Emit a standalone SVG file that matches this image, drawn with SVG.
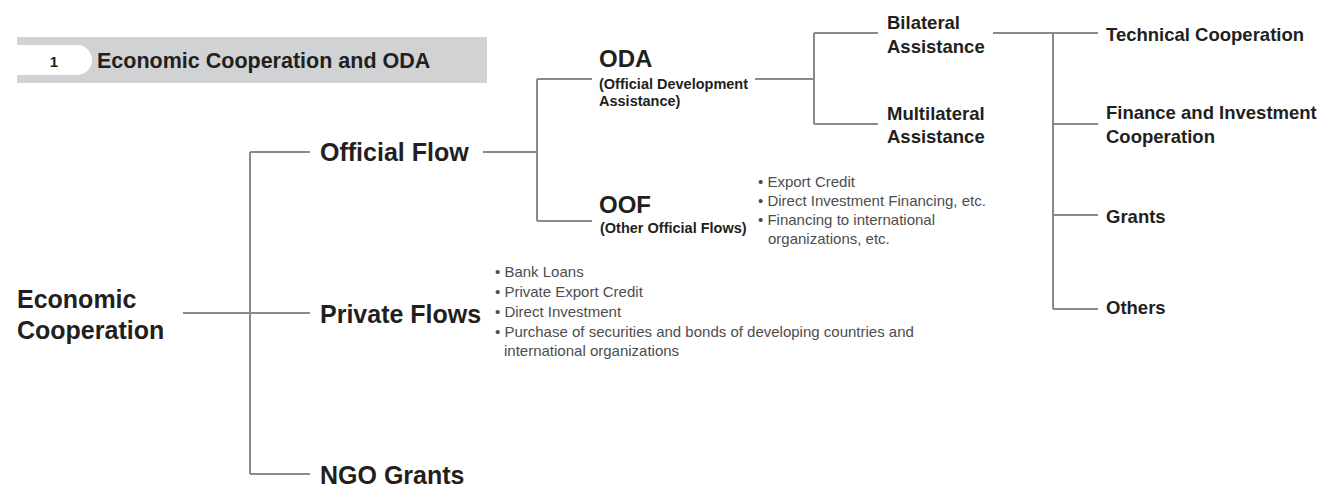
<svg xmlns="http://www.w3.org/2000/svg" width="1329" height="487" viewBox="0 0 1329 487">
<style>
.b{font-family:"Liberation Sans",Arial,sans-serif;font-weight:bold;fill:#231f20}
.r{font-family:"Liberation Sans",Arial,sans-serif;fill:#4d4d4d;font-size:15px}
.l{fill:none;stroke:#8a8a8a;stroke-width:2}
</style>
<rect width="1329" height="487" fill="#ffffff"/>
<g id="header">
<rect x="17" y="37" width="470" height="46" fill="#d1d2d4"/>
<path d="M17,45 H77 A15,15 0 0 1 77,75 H17 Z" fill="#ffffff"/>
<text class="b" x="54" y="67" font-size="15" text-anchor="middle">1</text>
<text class="b" x="97" y="68" font-size="21.5">Economic Cooperation and ODA</text>
</g>
<g id="connectors" class="l">
<path d="M183,313 H250"/>
<path d="M250,152 V474"/>
<path d="M250,152 H310 M250,313 H310 M250,474 H310"/>
<path d="M483,152 H537 M537,79 V221 M537,79 H592 M537,221 H592"/>
<path d="M755,79 H814 M814,33 V124 M814,33 H878 M814,124 H878"/>
<path d="M993,33 H1098 M1053,33 V309 M1053,124 H1098 M1053,215 H1098 M1053,309 H1098"/>
</g>
<g id="economic-cooperation">
<text class="b" x="17" y="308" font-size="25">Economic</text>
<text class="b" x="17" y="339" font-size="25">Cooperation</text>
</g>
<g id="official-flow"><text class="b" x="320" y="161" font-size="25">Official Flow</text></g>
<g id="private-flows"><text class="b" x="320" y="323" font-size="25">Private Flows</text></g>
<g id="ngo-grants"><text class="b" x="320" y="484" font-size="25">NGO Grants</text></g>
<g id="oda">
<text class="b" x="599" y="67" font-size="24">ODA</text>
<text class="b" x="599" y="89" font-size="14.5">(Official Development</text>
<text class="b" x="599" y="106" font-size="14.5">Assistance)</text>
</g>
<g id="oof">
<text class="b" x="599" y="213" font-size="24">OOF</text>
<text class="b" x="600" y="233" font-size="14.5">(Other Official Flows)</text>
</g>
<g id="oof-items">
<text class="r" x="758" y="187">• Export Credit</text>
<text class="r" x="758" y="206">• Direct Investment Financing, etc.</text>
<text class="r" x="758" y="225">• Financing to international</text>
<text class="r" x="768" y="244">organizations, etc.</text>
</g>
<g id="private-items">
<text class="r" x="495" y="277">• Bank Loans</text>
<text class="r" x="495" y="297">• Private Export Credit</text>
<text class="r" x="495" y="317">• Direct Investment</text>
<text class="r" x="495" y="337">• Purchase of securities and bonds of developing countries and</text>
<text class="r" x="504" y="356">international organizations</text>
</g>
<g id="bilateral">
<text class="b" x="887" y="29" font-size="18.5">Bilateral</text>
<text class="b" x="887" y="53" font-size="18.5">Assistance</text>
</g>
<g id="multilateral">
<text class="b" x="887" y="120" font-size="18.5">Multilateral</text>
<text class="b" x="887" y="143" font-size="18.5">Assistance</text>
</g>
<g id="technical-cooperation"><text class="b" x="1106" y="41" font-size="18.5">Technical Cooperation</text></g>
<g id="finance-investment">
<text class="b" x="1106" y="119" font-size="18.5">Finance and Investment</text>
<text class="b" x="1106" y="143" font-size="18.5">Cooperation</text>
</g>
<g id="grants"><text class="b" x="1106" y="223" font-size="18.5">Grants</text></g>
<g id="others"><text class="b" x="1106" y="314" font-size="18.5">Others</text></g>
</svg>
